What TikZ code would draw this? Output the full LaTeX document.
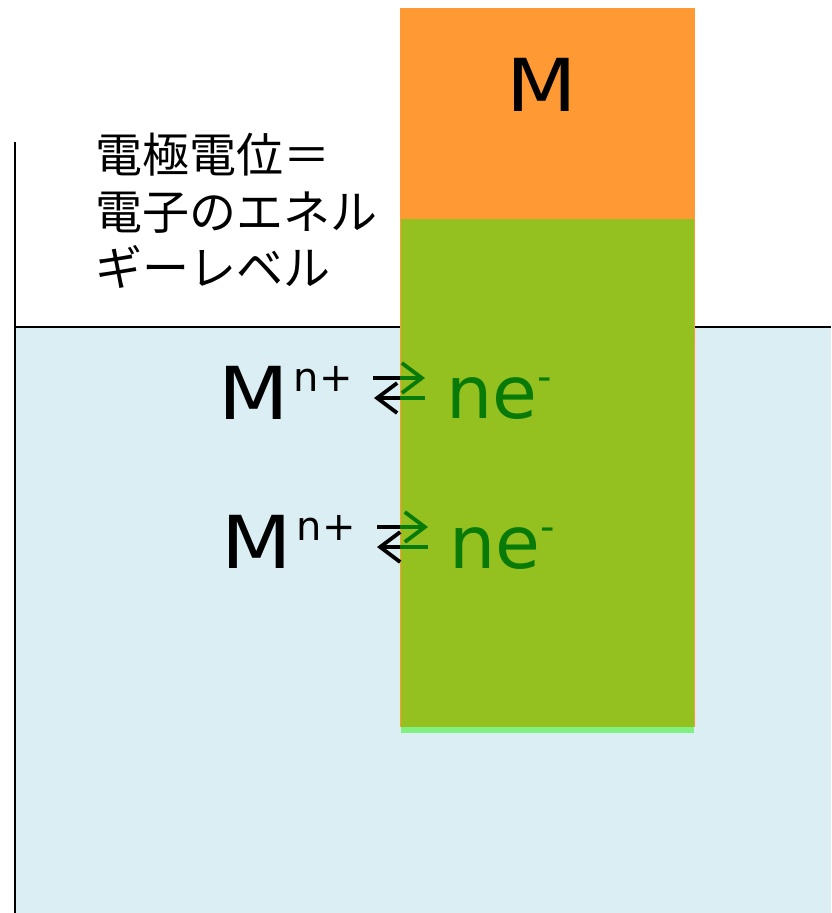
\documentclass[tikz,border=0pt]{standalone}
\usepackage{fontspec}
\setmainfont{Noto Sans CJK JP}
\newfontfamily\latinfont{DejaVu Sans}
\usetikzlibrary{arrows.meta}
\definecolor{water}{HTML}{DBEEF4}
\definecolor{orangeM}{HTML}{FF9933}
\definecolor{greenM}{HTML}{94C11F}
\definecolor{lightgr}{HTML}{80F080}
\definecolor{darkgr}{HTML}{077A07}
\tikzset{
  bigtxt/.style={inner sep=0pt, anchor=base west, font=\latinfont\fontsize{73}{73}\selectfont},
  jptxt/.style={inner sep=0pt, anchor=base west, font=\fontsize{47}{57}\selectfont},
  arr/.style={line width=3.8pt, -{Straight Barb[length=20pt,width=30pt,line width=3.8pt]}},
  seg/.style={line width=3.8pt},
}
\newcommand{\supsc}[1]{{\fontsize{40}{40}\selectfont\raisebox{28pt}{#1}}}
\newcommand{\wideM}{\scalebox{1.12}[1]{M}}
\begin{document}
\begin{tikzpicture}[x=1pt,y=-1pt]
\useasboundingbox (0,0) rectangle (831,913);
% water
\fill[water] (15,327) rectangle (831,913);
\draw[line width=2pt] (15,142) -- (15,913);
\draw[line width=2pt] (15,327) -- (831,327);
% electrode
\fill[orangeM] (400,8) rectangle (695,727);
\fill[greenM] (401,219) rectangle (694,727);
\fill[lightgr] (401,727) rectangle (694,733);
\node[inner sep=0pt, anchor=base, font=\latinfont\fontsize{73}{73}\selectfont] (mlabel) at (542,111) {\wideM};
% Japanese text
\node[jptxt] (jp1) at (95,172) {電極電位＝};
\node[jptxt] (jp2) at (95,229) {電子のエネル};
\node[jptxt] (jp3) at (95,285) {ギーレベル};
% first equilibrium
\node[bigtxt] (ion1) at (218,419) {\wideM\kern5pt\supsc{n+}};
\node[bigtxt, text=darkgr] (el1) at (446,418) {ne\supsc{-}};
\coordinate (a1s) at (373,378);
\coordinate (a1m) at (400,378);
\coordinate (a1e) at (425,378);
\coordinate (b1s) at (425,398);
\coordinate (b1m) at (400,398);
\coordinate (b1e) at (374,398);
\draw[seg] (a1s) -- (a1m);
\draw[arr, darkgr] (a1m) -- (a1e);
\draw[seg, darkgr] (b1s) -- (b1m);
\draw[arr] (b1m) -- (b1e);
% second equilibrium
\node[bigtxt] (ion2) at (221,568) {\wideM\kern5pt\supsc{n+}};
\node[bigtxt, text=darkgr] (el2) at (449,568) {ne\supsc{-}};
\coordinate (a2s) at (377,527);
\coordinate (a2m) at (400,527);
\coordinate (a2e) at (428,527);
\coordinate (b2s) at (428,547);
\coordinate (b2m) at (400,547);
\coordinate (b2e) at (377,547);
\draw[seg] (a2s) -- (a2m);
\draw[arr, darkgr] (a2m) -- (a2e);
\draw[seg, darkgr] (b2s) -- (b2m);
\draw[arr] (b2m) -- (b2e);
\end{tikzpicture}
\end{document}
